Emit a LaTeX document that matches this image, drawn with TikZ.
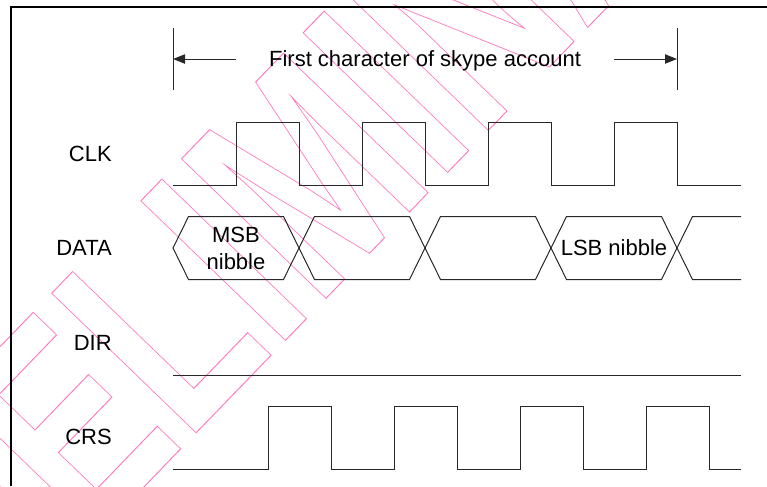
\documentclass[tikz,border=0pt]{standalone}
\usepackage{fontspec}
\setmainfont{Liberation Sans}
\usepackage{tikz}
\usetikzlibrary{positioning, arrows.meta}
\definecolor{mywavegrey}{RGB}{40, 40, 40}
\definecolor{mypinkmark}{RGB}{255, 120, 190}
\newcommand{\outlinetext}[1]{\special{pdf:literal direct 1 Tr 0.7 w}#1\special{pdf:literal direct 0 Tr}}

\begin{document}
\begin{tikzpicture}[x = 0.75pt, y = -0.75pt, >={Triangle[length = 9pt, width = 7pt]},
  wave/.style = {draw = mywavegrey, line width = 0.75pt},
  frame/.style = {draw = black, line width = 1.6pt},
  signame/.style = {anchor = east, inner sep = 0pt, font = \fontsize{16.5pt}{20pt}\selectfont},
  cell/.style = {align = center, inner sep = 0pt, font = \fontsize{16.5pt}{20.25pt}\selectfont},
  watermark/.style = {text = mypinkmark, inner sep = 0pt, anchor = base west, font = \fontsize{219pt}{219pt}\selectfont\bfseries}]
  \useasboundingbox (0, 0) rectangle (767, 486);

  % watermark
  \node [watermark, rotate = 46, xscale = 0.72] (prelim) at (-114, 754) {\outlinetext{PRELIMINARY}};

  % frame
  \draw [frame] (11, 486) -- (11, 7) -- (767, 7);

  % nodes
  \node [signame] (clk) at (112, 154) {CLK};
  \node [signame] (data) at (112, 248) {DATA};
  \node [signame] (dir) at (112, 343) {DIR};
  \node [signame] (crs) at (112, 437) {CRS};
  \node [cell] (msb) at (236, 248) {MSB\\nibble};
  \node [cell] (lsb) at (614, 248) {LSB nibble};
  \node [cell, anchor = base] (title) at (425, 66) {First character of skype account};

  % span markers
  \coordinate (bar-l-top) at (173, 28);
  \coordinate (bar-l-bot) at (173, 90);
  \coordinate (bar-r-top) at (677, 28);
  \coordinate (bar-r-bot) at (677, 90);
  \coordinate (arrow-l) at (236, 59);
  \coordinate (arrow-r) at (614, 59);
  \draw [wave] (bar-l-top) -- (bar-l-bot);
  \draw [wave] (bar-r-top) -- (bar-r-bot);
  \draw [wave, ->] (arrow-l) -- (bar-l-top |- arrow-l);
  \draw [wave, ->] (arrow-r) -- (bar-r-top |- arrow-r);

  % waveforms
  \draw [wave] (173, 185) \foreach \i in {1, ..., 4} { -- ++(63, 0) -- ++(0, -63) -- ++(63, 0) -- ++(0, 63) } -- ++(64, 0);
  \foreach \x in {173, 299, 425, 551}
    \draw [wave] (\x, 248) -- ++(15.5, -31.5) -- ++(95, 0) -- ++(15.5, 31.5) -- ++(-15.5, 31.5) -- ++(-95, 0) -- cycle;
  \draw [wave] (741, 216.5) -- (692.5, 216.5) -- (677, 248) -- (692.5, 279.5) -- (741, 279.5);
  \draw [wave] (173, 375) -- (741, 375);
  \draw [wave] (173, 469) -- ++(95, 0) \foreach \i in {1, 2, 3} { -- ++(0, -63) -- ++(63, 0) -- ++(0, 63) -- ++(63, 0) } -- ++(0, -63) -- ++(63, 0) -- ++(0, 63) -- ++(32, 0);
\end{tikzpicture}
\end{document}
